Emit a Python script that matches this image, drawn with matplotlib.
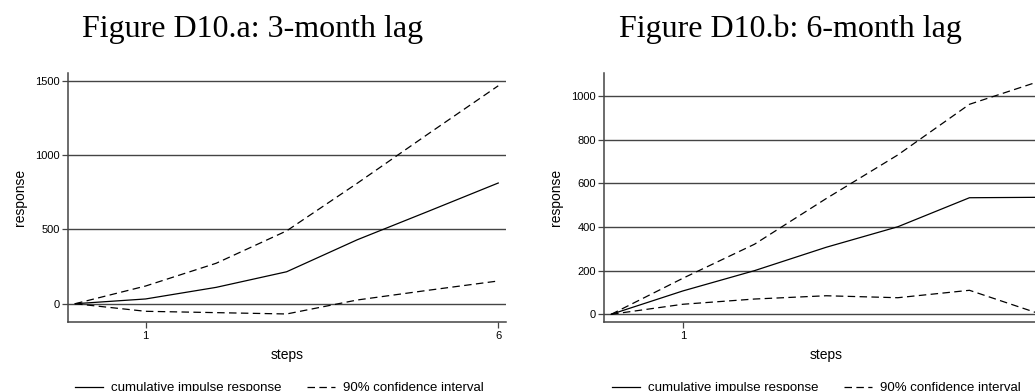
import matplotlib
matplotlib.use("Agg")
import matplotlib.pyplot as plt
from matplotlib.lines import Line2D

# Forecast horizon (months after the shock)
steps = [0, 1, 2, 3, 4, 5, 6]

# Panel a: 3-month lag
irf_a = [0, 32, 110, 215, 430, 620, 812]
upper_a = [0, 119, 272, 490, 810, 1140, 1466]
lower_a = [0, -51, -60, -69, 25, 90, 153]
yticks_a = [0, 500, 1000, 1500]

# Panel b: 6-month lag
irf_b = [0, 107, 200, 307, 401, 534, 536]
upper_b = [0, 165, 321, 530, 730, 962, 1070]
lower_b = [0, 46, 70, 85, 76, 110, 0]
yticks_b = [0, 200, 400, 600, 800, 1000]

xticks = [1, 6]
titles = ["Figure D10.a: 3-month lag", "Figure D10.b: 6-month lag"]

W, H = 1035, 391
fig = plt.figure(figsize=(W / 100, H / 100), dpi=100)
plt.rcParams["font.family"] = ["Liberation Sans", "DejaVu Sans"]

GRID = "#444444"
DASH = (0, (6, 3.5))


def px_axes(left, right, top, bottom):
    return [left / W, 1 - bottom / H, (right - left) / W, (bottom - top) / H]


panels = [
    dict(pos=px_axes(68, 506, 73.3, 322.3), ylim=(-125, 1550), yt=yticks_a,
         irf=irf_a, up=upper_a, lo=lower_a, title=titles[0], tx=253,
         leg_x=78),
    dict(pos=px_axes(604, 1049, 73.3, 322.3), ylim=(-36.6, 1104), yt=yticks_b,
         irf=irf_b, up=upper_b, lo=lower_b, title=titles[1], tx=790,
         leg_x=615),
]

for p in panels:
    ax = fig.add_axes(p["pos"])
    ax.set_xlim(-0.1, 6.11)
    ax.set_ylim(*p["ylim"])
    for y in p["yt"]:
        ax.axhline(y, color=GRID, lw=1.0, zorder=1)
    ax.plot(steps, p["irf"], color="black", lw=0.9, zorder=3)
    ax.plot(steps, p["up"], color="black", lw=0.9, ls=DASH, zorder=3)
    ax.plot(steps, p["lo"], color="black", lw=0.9, ls=DASH, zorder=3)

    ax.set_xticks(xticks)
    ax.set_yticks(p["yt"])
    ax.tick_params(axis="both", direction="out", length=4, width=0.9,
                   color=GRID, labelsize=8, pad=2)
    for s in ("top", "right"):
        ax.spines[s].set_visible(False)
    for s in ("left", "bottom"):
        ax.spines[s].set_color(GRID)
        ax.spines[s].set_linewidth(1.1)
    ax.set_ylabel("response", fontsize=10, labelpad=6)
    ax.set_xlabel("steps", fontsize=10, labelpad=5)

    fig.text(p["tx"] / W, 1 - 37 / H, p["title"], ha="center", va="baseline",
             family=["Liberation Serif", "DejaVu Serif"], fontsize=23)

    handles = [Line2D([], [], color="black", lw=0.9),
               Line2D([], [], color="black", lw=0.9, ls=DASH)]
    fig.legend(handles, ["cumulative impulse response", "90% confidence interval"],
               loc="lower left", bbox_to_anchor=(p["leg_x"] / W - 0.003, -0.008),
               ncol=2, frameon=False, fontsize=9.5, handlelength=2.1,
               handletextpad=0.6, columnspacing=2.0, borderpad=0.0,
               borderaxespad=0.0)

fig.savefig("out.png", dpi=100)
